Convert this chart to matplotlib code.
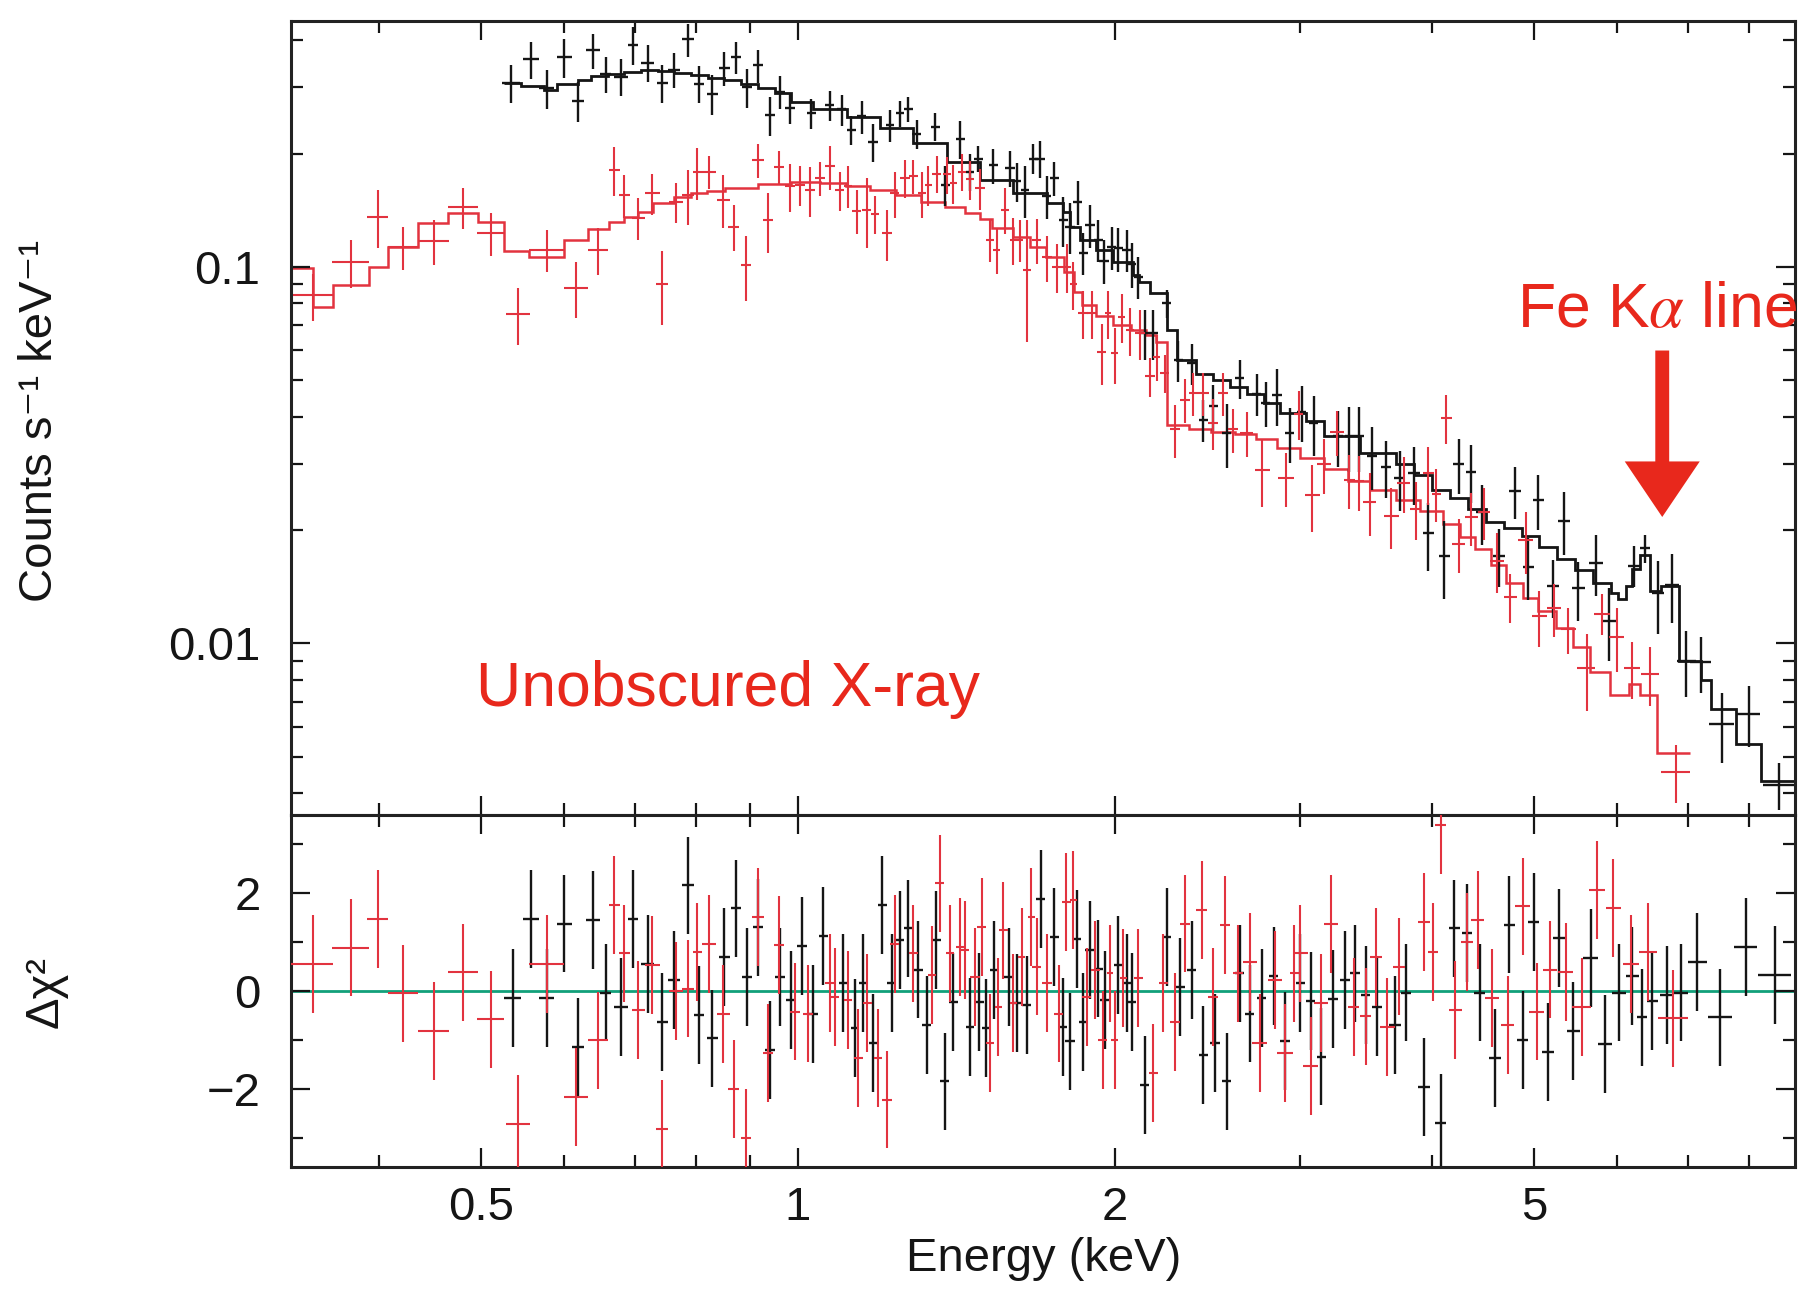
import matplotlib
matplotlib.use("Agg")
import matplotlib.pyplot as plt
from matplotlib import font_manager
from matplotlib.ticker import FixedLocator, FixedFormatter, NullFormatter

# ---------------- black spectrum (upper panel) ----------------
blk_e = [0.534, 0.558, 0.577, 0.600, 0.618, 0.639, 0.657, 0.679, 0.697, 0.720, 0.743, 0.763,
         0.786, 0.805, 0.829, 0.851, 0.873, 0.895, 0.916, 0.941, 0.961,
         0.983, 1.030, 1.072, 1.100, 1.124, 1.150, 1.178, 1.223, 1.250, 1.273, 1.297, 1.350,
         1.380, 1.426, 1.457, 1.484, 1.533, 1.590, 1.613, 1.643, 1.673, 1.698, 1.723, 1.751,
         1.787, 1.813, 1.844, 1.867, 1.894, 1.929, 1.953, 1.986, 2.015, 2.052, 2.075, 2.105,
         2.136, 2.175, 2.239, 2.297, 2.365, 2.427, 2.480, 2.553, 2.628,
         2.727, 2.78, 2.85, 2.93, 3.01, 3.09, 3.26, 3.34, 3.41, 3.51, 3.62, 3.73, 3.85, 3.97,
         4.11, 4.24, 4.36, 4.46, 4.63, 4.80, 4.94, 5.05, 5.21, 5.34, 5.51, 5.73, 5.89, 6.23,
         6.38, 6.56, 6.76, 6.98, 7.20, 7.54, 8.00, 8.55]
blk_de = [0.010, 0.010, 0.009, 0.010, 0.008, 0.010, 0.008, 0.010, 0.008, 0.010, 0.009, 0.010,
          0.010, 0.009, 0.010, 0.010, 0.010, 0.010, 0.010, 0.010, 0.010,
          0.010, 0.011, 0.011, 0.011, 0.011, 0.011, 0.012, 0.012, 0.012, 0.012, 0.013, 0.013,
          0.013, 0.014, 0.014, 0.015, 0.015, 0.016, 0.016, 0.016, 0.017, 0.017, 0.017, 0.017,
          0.018, 0.018, 0.018, 0.019, 0.019, 0.019, 0.020, 0.020, 0.020, 0.020, 0.021, 0.021,
          0.021, 0.022, 0.022, 0.023, 0.024, 0.024, 0.025, 0.026, 0.026,
          0.028, 0.028, 0.03, 0.03, 0.03, 0.03, 0.035, 0.035, 0.035, 0.04, 0.04, 0.045, 0.05, 0.05,
          0.05, 0.05, 0.05, 0.05, 0.06, 0.06, 0.06, 0.06, 0.07, 0.07, 0.08, 0.09, 0.09, 0.09,
          0.07, 0.08, 0.10, 0.15, 0.17, 0.2, 0.2, 0.3]
blk_cts = [0.308, 0.356, 0.298, 0.360, 0.276, 0.376, 0.326, 0.320, 0.388, 0.349, 0.308, 0.334,
           0.402, 0.307, 0.288, 0.338, 0.361, 0.300, 0.343, 0.253, 0.292,
           0.264, 0.256, 0.269, 0.262, 0.231, 0.251, 0.215, 0.238, 0.256, 0.262, 0.226, 0.236,
           0.165, 0.219, 0.179, 0.194, 0.186, 0.183, 0.169, 0.160, 0.194, 0.194, 0.154, 0.172,
           0.133, 0.128, 0.149, 0.109, 0.129, 0.118, 0.104, 0.113, 0.112, 0.111, 0.102, 0.094,
           0.0667, 0.0667, 0.080, 0.0566, 0.0555, 0.0393, 0.0426, 0.0362, 0.0507,
           0.0461, 0.0435, 0.0457, 0.0362, 0.0412, 0.0385, 0.0355, 0.0355, 0.0355, 0.0315,
           0.0294, 0.0275, 0.0283, 0.0196, 0.0171, 0.0300, 0.0286, 0.0223, 0.0171, 0.0254,
           0.0160, 0.0240, 0.0142, 0.0212, 0.0140, 0.0164, 0.0115, 0.0161, 0.0179, 0.0136,
           0.0143, 0.0090, 0.0089, 0.0061, 0.0065, 0.0042]
blk_err = [0.035, 0.040, 0.036, 0.043, 0.033, 0.040, 0.036, 0.036, 0.045, 0.040, 0.036, 0.035,
           0.040, 0.035, 0.035, 0.035, 0.035, 0.035, 0.035, 0.030, 0.030,
           0.025, 0.024, 0.025, 0.025, 0.020, 0.025, 0.025, 0.023, 0.020, 0.020, 0.020, 0.020,
           0.020, 0.025, 0.020, 0.015, 0.020, 0.020, 0.020, 0.025, 0.018, 0.022, 0.020, 0.018,
           0.020, 0.020, 0.020, 0.014, 0.017, 0.015, 0.014, 0.015, 0.015, 0.014, 0.014, 0.012,
           0.010, 0.010, 0.007, 0.007, 0.007, 0.005, 0.006, 0.007, 0.006,
           0.006, 0.006, 0.008, 0.006, 0.007, 0.007, 0.006, 0.007, 0.007, 0.006,
           0.005, 0.005, 0.005, 0.004, 0.004, 0.005, 0.005, 0.004, 0.003, 0.004,
           0.003, 0.004, 0.0025, 0.004, 0.0025, 0.003, 0.0025, 0.002, 0.0015, 0.003,
           0.003, 0.0018, 0.0015, 0.0013, 0.0012, 0.0006]

# black model (histogram over energy bins)
blk_mod_edges = [0.526, 0.546, 0.574, 0.591, 0.618, 0.636, 0.660, 0.684, 0.710, 0.736, 0.763,
                 0.791, 0.821, 0.851, 0.883, 0.916, 0.950, 0.985, 1.034, 1.112, 1.196, 1.287,
                 1.385, 1.489, 1.602, 1.723, 1.787, 1.813, 1.853, 1.92, 1.993, 2.08, 2.11, 2.16,
                 2.24, 2.29, 2.39, 2.48, 2.57, 2.67, 2.77, 2.87, 3.04, 3.16, 3.42, 3.70, 3.85,
                 4.00, 4.16, 4.33, 4.50, 4.68, 4.87, 5.06, 5.26, 5.47, 5.69, 5.92, 6.01, 6.11,
                 6.20, 6.30, 6.45, 6.60, 6.87, 7.20, 7.37, 7.78, 8.21, 8.90]
blk_mod = [0.308, 0.302, 0.295, 0.307, 0.313, 0.321, 0.326, 0.330, 0.333, 0.332, 0.328, 0.324,
           0.318, 0.313, 0.306, 0.298, 0.290, 0.275, 0.262, 0.250, 0.234, 0.214, 0.190, 0.170,
           0.157, 0.148, 0.140, 0.128, 0.118, 0.111, 0.103, 0.095, 0.091, 0.085, 0.068, 0.0566,
           0.052, 0.050, 0.048, 0.046, 0.0435, 0.041, 0.039, 0.0355, 0.032, 0.030, 0.028,
           0.0255, 0.0243, 0.0228, 0.0210, 0.0202, 0.0193, 0.0180, 0.0168, 0.0157, 0.0145,
           0.0136, 0.0131, 0.0142, 0.0158, 0.0172, 0.0138, 0.0142, 0.0090, 0.0080, 0.0067,
           0.0054, 0.0043]

# ---------------- red spectrum (upper panel) ----------------
red_e = [0.346, 0.376, 0.399, 0.422, 0.451, 0.481, 0.511, 0.542, 0.577, 0.616, 0.646, 0.669,
         0.684, 0.705, 0.727, 0.743, 0.766, 0.786, 0.802, 0.823, 0.849, 0.869, 0.892, 0.916,
         0.936, 0.959,
         0.983, 1.004, 1.026, 1.049, 1.072, 1.096, 1.116, 1.137, 1.162, 1.183, 1.214, 1.236,
         1.264, 1.287, 1.311, 1.330, 1.355, 1.385, 1.405, 1.431, 1.457, 1.489, 1.522, 1.544,
         1.573, 1.602, 1.625, 1.649, 1.685, 1.723, 1.761, 1.800, 1.826, 1.866, 1.901, 1.943,
         1.971, 2.000, 2.030, 2.067, 2.113, 2.160, 2.191, 2.231, 2.281, 2.331, 2.374, 2.427,
         2.480, 2.535, 2.590, 2.667,
         2.76, 2.91, 2.99, 3.08, 3.16, 3.25, 3.34, 3.41, 3.49, 3.66, 3.76, 3.86, 3.97, 4.04,
         4.13, 4.24, 4.36, 4.48, 4.61, 4.75, 4.91, 5.06, 5.22, 5.39, 5.61, 5.80, 5.99, 6.20,
         6.45, 6.82]
red_de = [0.016, 0.015, 0.009, 0.014, 0.015, 0.016, 0.015, 0.014, 0.022, 0.016, 0.014, 0.008,
          0.008, 0.010, 0.012, 0.010, 0.012, 0.010, 0.008, 0.012, 0.012, 0.010, 0.010, 0.012,
          0.010, 0.010,
          0.011, 0.011, 0.011, 0.012, 0.012, 0.011, 0.010, 0.011, 0.012, 0.011, 0.013, 0.012,
          0.013, 0.012, 0.012, 0.011, 0.013, 0.013, 0.011, 0.013, 0.013, 0.015, 0.014, 0.013,
          0.015, 0.013, 0.012, 0.014, 0.018, 0.018, 0.019, 0.018, 0.014, 0.020, 0.019, 0.020,
          0.014, 0.015, 0.016, 0.020, 0.022, 0.022, 0.016, 0.022, 0.027, 0.024, 0.022, 0.028,
          0.028, 0.028, 0.030, 0.040,
          0.045, 0.05, 0.03, 0.05, 0.05, 0.05, 0.04, 0.04, 0.05, 0.06, 0.05, 0.05, 0.05, 0.04,
          0.05, 0.06, 0.06, 0.06, 0.07, 0.07, 0.08, 0.08, 0.08, 0.09, 0.11, 0.10, 0.10, 0.11,
          0.13, 0.22]
red_cts = [0.084, 0.103, 0.136, 0.113, 0.117, 0.144, 0.123, 0.075, 0.111, 0.088, 0.111, 0.181,
           0.155, 0.135, 0.157, 0.090, 0.149, 0.155, 0.179, 0.179, 0.151, 0.128, 0.101, 0.192,
           0.133, 0.184,
           0.164, 0.165, 0.160, 0.172, 0.185, 0.160, 0.164, 0.141, 0.142, 0.138, 0.123, 0.157,
           0.172, 0.174, 0.157, 0.165, 0.177, 0.176, 0.167, 0.179, 0.171, 0.162, 0.118, 0.111,
           0.142, 0.118, 0.118, 0.098, 0.118, 0.106, 0.100, 0.100, 0.090, 0.0754, 0.0754,
           0.0596, 0.0754, 0.0590, 0.0738, 0.068, 0.0667, 0.0512, 0.0578, 0.0522, 0.0370,
           0.0444, 0.0462, 0.0462, 0.0386, 0.0462, 0.0370, 0.0362,
           0.0288, 0.0275, 0.0407, 0.0248, 0.0300, 0.0365, 0.0272, 0.0270, 0.0238, 0.0218,
           0.0267, 0.0228, 0.0283, 0.0250, 0.0398, 0.0184, 0.0216, 0.0223, 0.0166, 0.0133,
           0.0188, 0.0118, 0.0124, 0.0109, 0.0086, 0.0120, 0.0104, 0.0086, 0.0083, 0.00456]
red_err = [0.012, 0.015, 0.024, 0.015, 0.016, 0.018, 0.016, 0.013, 0.014, 0.015, 0.016, 0.027,
           0.020, 0.017, 0.020, 0.020, 0.018, 0.026, 0.028, 0.018, 0.024, 0.018, 0.020, 0.020,
           0.024, 0.019,
           0.024, 0.020, 0.024, 0.018, 0.025, 0.019, 0.021, 0.019, 0.030, 0.016, 0.019, 0.022,
           0.020, 0.018, 0.022, 0.020, 0.020, 0.020, 0.020, 0.020, 0.020, 0.020, 0.015, 0.015,
           0.020, 0.017, 0.015, 0.035, 0.016, 0.015, 0.015, 0.015, 0.013, 0.011, 0.011, 0.011,
           0.011, 0.010, 0.011, 0.010, 0.010, 0.006, 0.008, 0.006, 0.006, 0.006, 0.006, 0.006,
           0.006, 0.006, 0.005, 0.005,
           0.0058, 0.0045, 0.006, 0.005, 0.005, 0.005, 0.0045, 0.0045, 0.0045, 0.004, 0.0045,
           0.004, 0.005, 0.004, 0.006, 0.003, 0.0035, 0.0035, 0.003, 0.002, 0.0035, 0.002,
           0.002, 0.0015, 0.002, 0.0015, 0.002, 0.0015, 0.0015, 0.0008]

# red model (histogram over energy bins)
red_mod_edges = [0.330, 0.346, 0.362, 0.391, 0.408, 0.436, 0.465, 0.497, 0.526, 0.555, 0.600,
                 0.632, 0.661, 0.684, 0.705, 0.728, 0.763, 0.792, 0.819, 0.852, 0.916, 0.985,
                 1.05, 1.11, 1.17, 1.24, 1.31, 1.38, 1.44, 1.49, 1.53, 1.60, 1.66, 1.72, 1.79,
                 1.83, 1.86, 1.92, 1.99, 2.07, 2.14, 2.19, 2.24, 2.35, 2.47, 2.60, 2.72, 2.85,
                 3.0, 3.16, 3.33, 3.50, 3.70, 3.90, 4.10, 4.25, 4.40, 4.55, 4.70, 4.88, 5.05,
                 5.25, 5.45, 5.65, 5.90, 6.15, 6.30, 6.55, 7.03]
red_mod = [0.0994, 0.0783, 0.0896, 0.100, 0.113, 0.131, 0.139, 0.132, 0.110, 0.106, 0.118,
           0.126, 0.132, 0.136, 0.140, 0.148, 0.153, 0.157, 0.159, 0.162, 0.166, 0.168, 0.167,
           0.164, 0.160, 0.155, 0.149, 0.144, 0.139, 0.134, 0.127, 0.120, 0.113, 0.106, 0.097,
           0.086, 0.079, 0.074, 0.070, 0.068, 0.066, 0.063, 0.038, 0.037, 0.0365, 0.036,
           0.035, 0.033, 0.031, 0.029, 0.027, 0.0255, 0.024, 0.0225, 0.0208, 0.0192, 0.0178,
           0.0162, 0.0145, 0.0132, 0.0122, 0.0110, 0.0098, 0.0084, 0.0073, 0.0078, 0.0073,
           0.0051]

# ---------------- residuals (lower panel) ----------------
blk_res_e = [0.536, 0.558, 0.577, 0.600, 0.618, 0.639, 0.657, 0.679, 0.697, 0.720, 0.743,
             0.763, 0.786, 0.805, 0.829, 0.851, 0.873, 0.895, 0.916, 0.941, 0.961,
             0.985, 1.008, 1.034, 1.057, 1.104, 1.133, 1.154, 1.179, 1.203, 1.227, 1.250,
             1.273, 1.301, 1.325, 1.353, 1.378, 1.405, 1.457, 1.487, 1.509, 1.536, 1.585,
             1.613, 1.649, 1.701, 1.751, 1.784, 1.813, 1.841, 1.866, 1.894, 1.929, 1.957,
             2.015, 2.052, 2.075, 2.136, 2.239, 2.306, 2.365, 2.427, 2.489, 2.553, 2.628,
             2.686, 2.756, 2.83,
             2.90, 3.00, 3.07, 3.14, 3.22, 3.31, 3.38, 3.46, 3.55, 3.69, 3.78, 3.93, 4.08,
             4.20, 4.32, 4.44, 4.59, 4.74, 4.88, 5.00, 5.16, 5.28, 5.45, 5.66, 5.84, 6.02,
             6.20, 6.33, 6.48, 6.69, 6.89, 7.15, 7.51, 7.95, 8.47]
blk_res_de = [0.010, 0.010, 0.009, 0.010, 0.008, 0.010, 0.008, 0.010, 0.008, 0.010, 0.009,
              0.010, 0.010, 0.009, 0.010, 0.010, 0.010, 0.010, 0.010, 0.010, 0.010,
              0.010, 0.011, 0.011, 0.011, 0.011, 0.011, 0.011, 0.012, 0.012, 0.012, 0.012,
              0.012, 0.013, 0.013, 0.013, 0.013, 0.014, 0.014, 0.015, 0.015, 0.015, 0.016,
              0.016, 0.016, 0.017, 0.017, 0.018, 0.018, 0.018, 0.019, 0.019, 0.019, 0.020,
              0.020, 0.020, 0.021, 0.021, 0.022, 0.023, 0.024, 0.024, 0.025, 0.026, 0.026,
              0.027, 0.028, 0.028,
              0.03, 0.03, 0.03, 0.03, 0.035, 0.035, 0.035, 0.035, 0.04, 0.05, 0.04, 0.05, 0.05,
              0.05, 0.05, 0.05, 0.06, 0.06, 0.06, 0.06, 0.07, 0.07, 0.08, 0.09, 0.09, 0.09,
              0.09, 0.07, 0.08, 0.10, 0.12, 0.15, 0.2, 0.2, 0.3]
blk_res = [-0.15, 1.48, -0.15, 1.38, -1.15, 1.45, -0.03, -0.32, 1.48, 0.55, -0.63,
           0.22, 2.16, -0.49, -0.97, 0.70, 1.69, 0.29, 1.30, -1.20, 0.29,
           -0.18, 0.92, -0.47, 1.12, 0.16, -0.76, 0.16, -1.07, 1.76, 0.17, 1.04,
           1.28, 0.44, -0.69, 1.04, -1.85, -0.22, -0.73, -0.22, -0.76, 0.43, 0.29,
           -0.25, -0.29, 1.89, 1.11, -0.73, -1.03, 1.07, -0.63, 0.84, 0.46, -0.18,
           0.53, 0.16, -0.22, -1.92, 1.11, 0.09, 0.43, -1.31, -1.07, -1.85, 0.36,
           -0.46, -0.15, 0.30,
           -1.02, 0.17, -0.20, -1.34, -0.17, 0.22, 0.36, -0.08, -0.32, -0.69, -0.03, -1.97,
           -2.70, 1.28, 1.19, -0.03, -1.37, 1.36, -1.00, 1.41, -1.24, 1.09, -0.81, 0.67,
           -1.09, -0.03, 0.31, -0.54, -0.20, -0.08, -0.03, 0.60, -0.54, 0.90, 0.33]

red_res_e = [0.346, 0.376, 0.399, 0.422, 0.451, 0.481, 0.511, 0.542, 0.577, 0.616, 0.646,
             0.669, 0.684, 0.705, 0.727, 0.743, 0.766, 0.786, 0.802, 0.823, 0.849, 0.869,
             0.892, 0.916, 0.936, 0.959,
             0.993, 1.023, 1.072, 1.084, 1.116, 1.141, 1.164, 1.192, 1.214, 1.236, 1.287,
             1.340, 1.363, 1.395, 1.426, 1.442, 1.473, 1.494, 1.522, 1.550, 1.567, 1.602,
             1.631, 1.666, 1.685, 1.723, 1.768, 1.798, 1.826, 1.880, 1.915, 1.947, 1.978,
             2.000, 2.037, 2.105, 2.175, 2.223, 2.281, 2.331, 2.418, 2.480, 2.545, 2.617,
             2.686, 2.746,
             2.84, 2.90, 2.96, 3.00, 3.07, 3.14, 3.21, 3.37, 3.46, 3.54, 3.63, 3.72, 3.93,
             4.01, 4.08, 4.21, 4.32, 4.42, 4.56, 4.72, 4.88, 5.03, 5.18, 5.36, 5.55, 5.74,
             5.95, 6.18, 6.42, 6.78]
red_res_de = [0.016, 0.015, 0.009, 0.014, 0.015, 0.016, 0.015, 0.014, 0.022, 0.016, 0.014,
              0.008, 0.008, 0.010, 0.012, 0.010, 0.012, 0.010, 0.008, 0.012, 0.012, 0.010,
              0.010, 0.012, 0.010, 0.010,
              0.011, 0.011, 0.012, 0.011, 0.010, 0.011, 0.012, 0.011, 0.013, 0.012, 0.012,
              0.011, 0.013, 0.013, 0.013, 0.013, 0.015, 0.015, 0.014, 0.013, 0.015, 0.013,
              0.012, 0.014, 0.018, 0.018, 0.019, 0.018, 0.014, 0.020, 0.019, 0.020, 0.014,
              0.015, 0.016, 0.020, 0.022, 0.022, 0.027, 0.024, 0.028, 0.028, 0.028, 0.030,
              0.040, 0.045,
              0.045, 0.05, 0.03, 0.05, 0.05, 0.05, 0.05, 0.04, 0.04, 0.05, 0.06, 0.05, 0.05,
              0.04, 0.05, 0.06, 0.06, 0.06, 0.07, 0.07, 0.08, 0.08, 0.08, 0.09, 0.11, 0.10,
              0.10, 0.11, 0.13, 0.22]
red_res = [0.56, 0.89, 1.48, -0.05, -0.81, 0.38, -0.58, -2.72, 0.56, -2.16, -1.01,
           1.76, 0.77, -0.39, 0.53, -2.82, 0.00, 0.05, 0.80, 0.97, -0.47, -2.00,
           -3.00, 1.52, -1.27, 0.94,
           -0.42, -0.46, 0.16, -0.12, -0.18, -1.37, -0.25, -1.37, -2.22, 0.97, 0.77,
           0.33, 2.20, 0.77, 0.90, 0.84, 0.29, 1.31, -1.07, -0.32, 1.24, -0.25,
           0.70, 1.52, 0.50, 0.16, -0.46, 1.82, 1.86, -0.12, 0.43, -1.00, 0.36,
           -1.00, 0.26, 0.26, -1.68, 0.16, -0.63, 1.38, 1.65, -0.12, 1.35, 0.36,
           0.60, -1.07,
           0.22, -1.27, 0.36, 0.77, -1.54, -0.25, 1.37, -0.32, -0.52, 0.70, -0.73, 0.50, 1.41,
           0.80, 3.39, -0.39, 1.01, 1.46, -0.15, -0.69, 1.73, -0.42, 0.44, 0.39, -0.32, 2.07,
           1.70, 0.55, 0.80, -0.56]

x_major = [0.5, 1, 2, 5]
x_major_labels = ["0.5", "1", "2", "5"]
x_minor = [0.4, 0.6, 0.7, 0.8, 0.9, 3, 4, 6, 7, 8]
y_major = [0.01, 0.1]
y_major_labels = ["0.01", "0.1"]
y_minor = [0.004, 0.005, 0.006, 0.007, 0.008, 0.009, 0.02, 0.03, 0.04, 0.05, 0.06, 0.07,
           0.08, 0.09, 0.2, 0.3, 0.4]

# ---------------- style ----------------
installed = {f.name for f in font_manager.fontManager.ttflist}
base_font = "Liberation Sans" if "Liberation Sans" in installed else "DejaVu Sans"
label_font = "Liberation Sans Narrow" if "Liberation Sans Narrow" in installed else base_font
plt.rcParams["font.family"] = [base_font, "DejaVu Sans"]

BLACK = "#151515"
RED = "#e2333f"
ANNO_RED = "#e8281c"
GREEN = "#12a07a"

fig = plt.figure(figsize=(18.19, 12.97), dpi=100)
ax1 = fig.add_axes([0.1600, 0.3716, 0.8268, 0.6122])
ax2 = fig.add_axes([0.1600, 0.1002, 0.8268, 0.2714], sharex=ax1)

# upper panel: data + models
ax1.errorbar(blk_e, blk_cts, xerr=blk_de, yerr=blk_err, fmt="none",
             ecolor=BLACK, elinewidth=1.7, capsize=0)
ax1.stairs(blk_mod, blk_mod_edges, color=BLACK, lw=2.0, baseline=None)
ax1.errorbar(red_e, red_cts, xerr=red_de, yerr=red_err, fmt="none",
             ecolor=RED, elinewidth=1.5, capsize=0)
ax1.stairs(red_mod, red_mod_edges, color=RED, lw=1.8, baseline=None)

# lower panel: residuals
ax2.axhline(0, color=GREEN, lw=2.0, zorder=1)
ax2.errorbar(blk_res_e, blk_res, xerr=blk_res_de, yerr=1.0, fmt="none",
             ecolor=BLACK, elinewidth=1.7, capsize=0, zorder=2)
ax2.errorbar(red_res_e, red_res, xerr=red_res_de, yerr=1.0, fmt="none",
             ecolor=RED, elinewidth=1.5, capsize=0, zorder=3)

ax1.set_xscale("log")
ax1.set_yscale("log")
ax1.set_xlim(0.33, 8.85)
ax1.set_ylim(0.0035, 0.45)
ax2.set_ylim(-3.6, 3.6)

for ax in (ax1, ax2):
    ax.xaxis.set_major_locator(FixedLocator(x_major))
    ax.xaxis.set_minor_locator(FixedLocator(x_minor))
    ax.xaxis.set_minor_formatter(NullFormatter())
    ax.tick_params(which="both", direction="in", top=True, right=True,
                   width=1.6, labelsize=34, colors=BLACK)
    ax.tick_params(which="major", length=14)
    ax.tick_params(which="minor", length=8.5)
    for sp in ax.spines.values():
        sp.set_linewidth(2.2)
        sp.set_color("#222222")

ax1.xaxis.set_major_formatter(NullFormatter())
ax1.tick_params(axis="x", labelbottom=False)
ax1.yaxis.set_major_locator(FixedLocator(y_major))
ax1.yaxis.set_major_formatter(FixedFormatter(y_major_labels))
ax1.yaxis.set_minor_locator(FixedLocator(y_minor))
ax1.yaxis.set_minor_formatter(NullFormatter())
ax1.tick_params(axis="y", pad=22)

ax2.xaxis.set_major_formatter(FixedFormatter(x_major_labels))
ax2.yaxis.set_major_locator(FixedLocator([-2, 0, 2]))
ax2.yaxis.set_minor_locator(FixedLocator([-3, -1, 1, 3]))
ax2.tick_params(axis="y", pad=22)
ax2.tick_params(axis="x", pad=14)

# axis titles
fig.text(40 / 1819, 1 - 421 / 1297, "Counts s⁻¹ keV⁻¹", rotation=90,
         ha="center", va="center", fontsize=34, family=[label_font, "DejaVu Sans"],
         color=BLACK)
fig.text(46 / 1819, 1 - 992 / 1297, "Δχ²", rotation=90, ha="center", va="center",
         fontsize=34, family=[label_font, "DejaVu Sans"], color=BLACK)
fig.text(0.5735, 1 - 1259 / 1297, "Energy (keV)", ha="center", va="center",
         fontsize=34, family=[label_font, "DejaVu Sans"], color=BLACK)

# annotations
ax1.text(0.494, 0.00755, "Unobscured X-ray", color=ANNO_RED, fontsize=45,
         ha="left", va="center")
ax1.text(4.82, 0.0764, "Fe K$\\alpha$ line", color=ANNO_RED, fontsize=45,
         ha="left", va="center", clip_on=False, math_fontfamily="stix")
ax1.annotate("", xy=(6.62, 0.0213), xytext=(6.62, 0.061),
             arrowprops=dict(arrowstyle="simple,head_width=2.7,head_length=2.0,tail_width=0.5",
                             mutation_scale=20, color=ANNO_RED, lw=0))

fig.savefig("out.png", dpi=100)
